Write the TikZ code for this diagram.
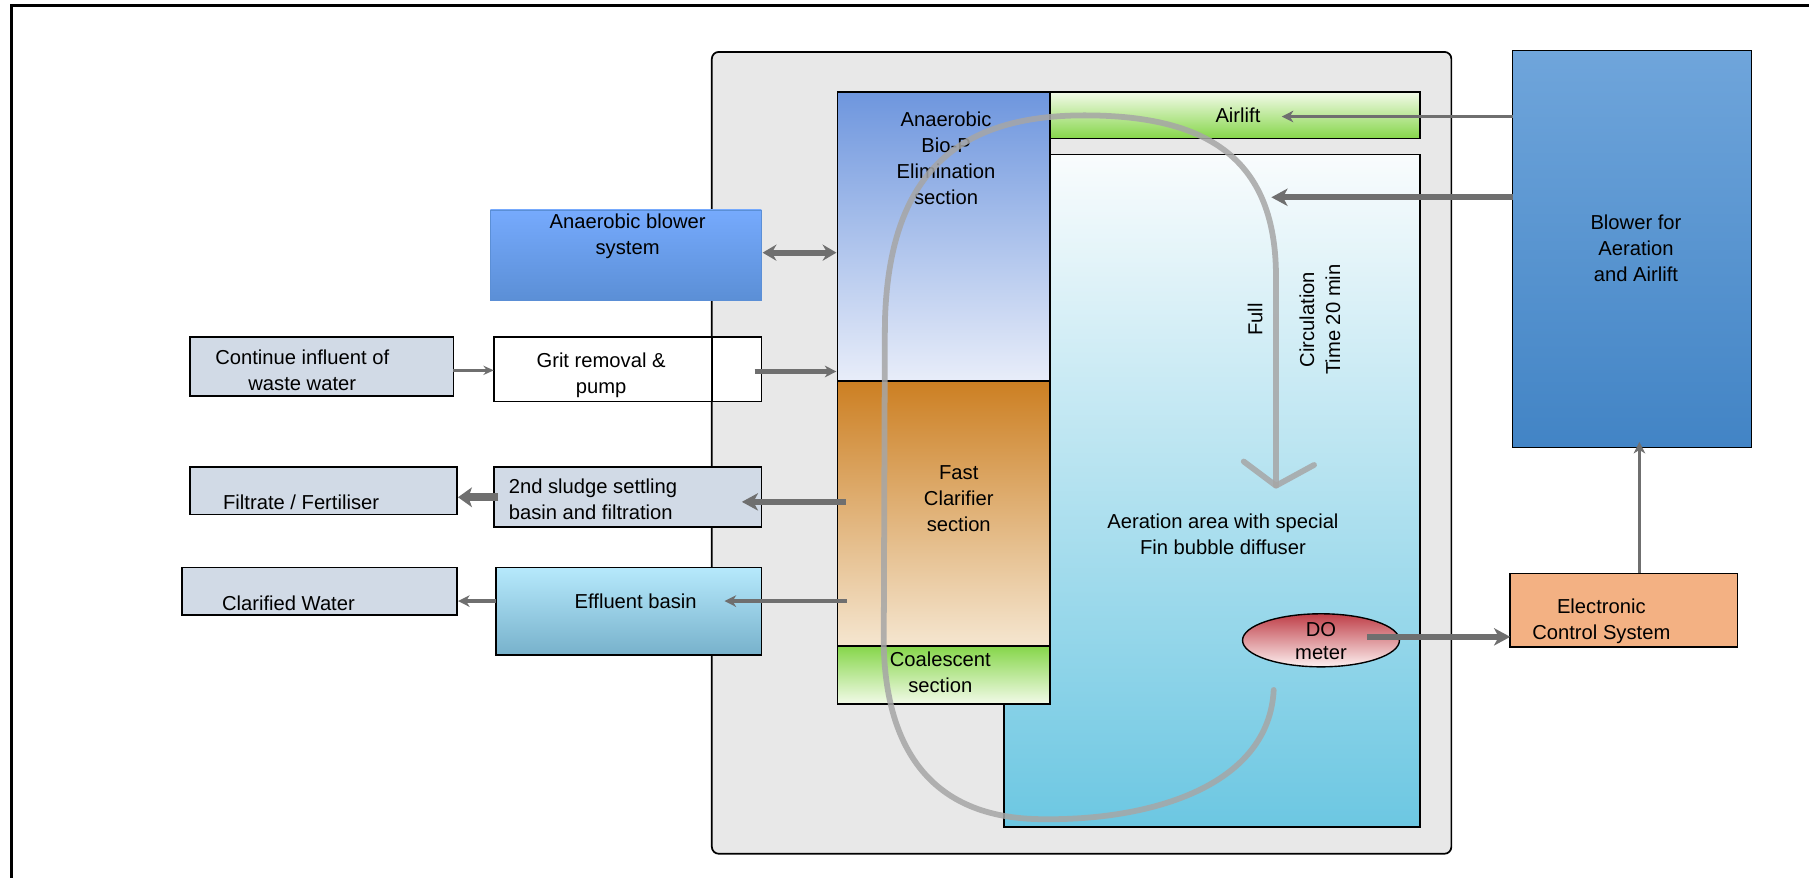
\documentclass[tikz,border=0pt]{standalone}
\usepackage{fontspec}
\setmainfont{Liberation Sans}
\usetikzlibrary{arrows.meta,shapes.geometric,calc}
\definecolor{tankgray}{HTML}{E8E8E8}
\definecolor{arrowgray}{HTML}{6F6F6F}
\definecolor{loopgray}{HTML}{A6A6A6}
\definecolor{steel}{HTML}{D1DAE6}
\definecolor{aertop}{HTML}{F9FCFD}
\definecolor{aermid}{HTML}{B3E2EF}
\definecolor{aerbot}{HTML}{6CC7E2}
\definecolor{bluetop}{HTML}{6E96DE}
\definecolor{bluebot}{HTML}{E8EDF9}
\definecolor{orgtop}{HTML}{CC7F22}
\definecolor{orgbot}{HTML}{F5E6D0}
\definecolor{grnstrong}{HTML}{86D64A}
\definecolor{grnlight}{HTML}{F2FAE8}
\definecolor{abltop}{HTML}{76AAFD}
\definecolor{ablbot}{HTML}{5B8FD6}
\definecolor{efftop}{HTML}{B6E9FC}
\definecolor{effbot}{HTML}{77B1CB}
\definecolor{bwtop}{HTML}{6FA5DB}
\definecolor{bwbot}{HTML}{4284C5}
\definecolor{ctrlfill}{HTML}{F3B183}
\definecolor{dotop}{HTML}{BF3F48}
\definecolor{dobot}{HTML}{FDF0F0}
\tikzset{
  blk/.style={rectangle, draw=black, line width=1.5pt, inner sep=0pt, outer sep=0pt, anchor=north west},
  txt/.style={font=\fontsize{17.5}{22.5}\selectfont, align=center, inner sep=0pt, text=black},
  flow/.style={draw=arrowgray, line width=3pt, -{Stealth[length=10pt,width=10pt,inset=3pt]}},
  bigflow/.style={draw=arrowgray, line width=5pt, -{Stealth[length=14pt,width=15pt,inset=4pt]}},
  loopline/.style={draw=loopgray, line width=5pt, line cap=round, line join=round, opacity=0.85}
}
\begin{document}
\begin{tikzpicture}[x=1pt,y=-1pt]
\useasboundingbox (0,0) rectangle (1568,761);
% outer frame
\draw[line width=2.5pt] (10,761) -- (10,5) -- (1568,5);
% tank
\node[blk, fill=tankgray, rounded corners=6pt, minimum width=641pt, minimum height=695pt] (tank) at (617,45) {};
\node[blk, top color=aertop, middle color=aermid, bottom color=aerbot, minimum width=361pt, minimum height=583pt] (aer) at (870,134) {};
\node[blk, top color=grnlight, bottom color=grnstrong, minimum width=321pt, minimum height=40pt] (airlift) at (910,80) {};
\node[blk, top color=bluetop, bottom color=bluebot, minimum width=184pt, minimum height=250pt] (colblue) at (726,80) {};
\node[blk, top color=orgtop, bottom color=orgbot, minimum width=184pt, minimum height=230pt] (colorg) at (726,330) {};
\node[blk, top color=grnstrong, bottom color=grnlight, minimum width=184pt, minimum height=50pt] (colgrn) at (726,560) {};
% left boxes
\node[blk, draw=ablbot, line width=0.8pt, top color=abltop, bottom color=ablbot, minimum width=235pt, minimum height=78pt] (ablower) at (425,182) {};
\node[blk, fill=steel, minimum width=228pt, minimum height=51pt] (influent) at (165,292) {};
\node[blk, fill=white, minimum width=232pt, minimum height=56pt] (grit) at (428,292) {};
\coordinate (tankedge) at (tank.north west);
\draw[draw=black, line width=1.5pt] (tankedge |- grit.north) -- (tankedge |- grit.south);
\node[blk, fill=steel, minimum width=231pt, minimum height=41pt] (filtrate) at (165,405) {};
\node[blk, fill=steel, minimum width=232pt, minimum height=52pt] (sludge) at (428,405) {};
\node[blk, fill=steel, minimum width=238pt, minimum height=41pt] (clarified) at (158,492) {};
\node[blk, top color=efftop, bottom color=effbot, minimum width=230pt, minimum height=76pt] (effluent) at (430,492) {};
% right boxes
\node[blk, line width=1.2pt, top color=bwtop, bottom color=bwbot, minimum width=207pt, minimum height=344pt] (blowerA) at (1311,44) {};
\node[blk, fill=ctrlfill, minimum width=197pt, minimum height=64pt] (control) at (1309,497) {};
\node[ellipse, draw=black, line width=1.2pt, top color=dotop, bottom color=dobot, minimum width=136pt, minimum height=46pt, inner sep=0pt] (do) at (1145,555) {};
% texts
\node[txt] (tablower) at (544,205) {Anaerobic blower\\system};
\node[txt] (tinfluent) at (262,321) {Continue influent of\\waste water};
\node[txt] (tgrit) at (521,325.5) {Grit removal \&\\pump};
\node[txt] (tfiltrate) at (261,435) {Filtrate / Fertiliser};
\node[txt, align=left] (tsludge) at (514,432.5) {2nd sludge settling\\basin and filtration};
\node[txt] (tclarified) at (250,523) {Clarified Water};
\node[txt] (teffluent) at (551,521) {Effluent basin};
\node[txt] (tcolblue) at (820,137.5) {Anaerobic\\Bio-P\\Elimination\\section};
\node[txt] (tcolorg) at (831,432) {Fast\\Clarifier\\section};
\node[txt] (tcolgrn) at (815,583) {Coalescent\\section};
\node[txt] (tairlift) at (1073,100) {Airlift};
\node[txt] (taer) at (1060,463.5) {Aeration area with special\\Fin bubble diffuser};
\node[txt, font=\fontsize{17.5}{20}\selectfont] (tdo) at (1145,556) {DO\\meter};
\node[txt, rotate=90] (tfull) at (1088,277) {Full};
\node[txt, rotate=90] (tcirc) at (1144,277) {Circulation\\Time 20 min};
\node[txt] (tcontrol) at (1388,538.5) {Electronic\\Control System};
\node[txt] (tblowerA) at (1418,215) {Blower for\\Aeration\\and Airlift};
% circulation loop
\coordinate (loopstart) at (1104,598);
\coordinate (looptip) at (1106,421);
\draw[loopline] (loopstart) .. controls (1100,680) and (1000,712) .. (900,710)
  .. controls (800,708) and (768,640) .. (766,560)
  -- (767,280) .. controls (770,150) and (830,100) .. (940,100)
  .. controls (1050,100) and (1106,140) .. (1106,240) -- (looptip);
\draw[loopline] ($(looptip)+(-28,-21)$) -- (looptip) -- ($(looptip)+(33,-18)$);
% connectors
\coordinate (airin) at (1111,101);
\coordinate (aerin) at (1102,171);
\coordinate (ctrlup) at (1421,0);
\draw[flow] (blowerA.west |- airin) -- (airin);
\draw[bigflow] (blowerA.west |- aerin) -- (aerin);
\draw[flow] (control.north -| ctrlup) -- ([yshift=5pt]blowerA.south -| ctrlup);
\draw[bigflow] ($(do.center)+(40,-3)$) -- (control.west |- 0,552);
\draw[draw=arrowgray, line width=5pt, {Stealth[length=12pt,width=14pt,inset=4pt]}-{Stealth[length=12pt,width=14pt,inset=4pt]}] ([xshift=1pt]ablower.east |- 0,219) -- ([xshift=-1pt]colblue.west |- 0,219);
\draw[flow, line width=3.5pt] ([xshift=-6pt]grit.east |- 0,322) -- ([xshift=-1pt]colblue.west |- 0,322);
\draw[flow, line width=2.2pt, -{Stealth[length=9pt,width=8pt,inset=3pt]}] (influent.east |- 0,321) -- (grit.west |- 0,321);
\draw[bigflow] ([xshift=7pt]colorg.west |- 0,435) -- ([xshift=-17pt]sludge.east |- 0,435);
\draw[draw=arrowgray, line width=7pt, -{Stealth[length=12pt,width=17pt,inset=3pt]}] ([xshift=4pt]sludge.west |- 0,431) -- ([xshift=1pt]filtrate.east |- 0,431);
\draw[flow, line width=4pt] ([xshift=8pt]colorg.west |- 0,521) -- ([xshift=-32pt]effluent.east |- 0,521);
\draw[flow, line width=4pt] (effluent.west |- 0,521) -- ([xshift=1pt]clarified.east |- 0,521);
\end{tikzpicture}
\end{document}
